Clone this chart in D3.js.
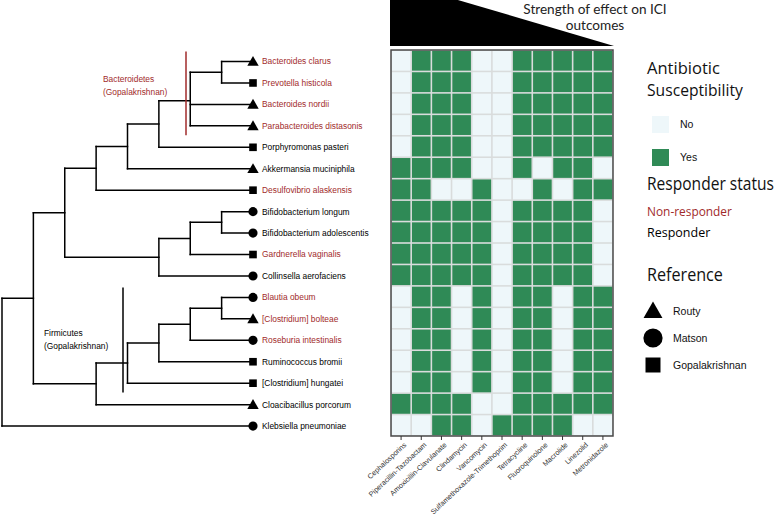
<!DOCTYPE html>
<html><head><meta charset="utf-8">
<script src="https://cdn.jsdelivr.net/npm/d3@7"></script>
<style>body{margin:0;background:#fff;} svg{display:block;}</style>
</head><body>
<svg id="chart" width="778" height="518"></svg>
<script>
// ---------------- data ----------------
const taxa = [
  "Bacteroides clarus","Prevotella histicola","Bacteroides nordii","Parabacteroides distasonis",
  "Porphyromonas pasteri","Akkermansia muciniphila","Desulfovibrio alaskensis",
  "Bifidobacterium longum","Bifidobacterium adolescentis","Gardnerella vaginalis",
  "Collinsella aerofaciens","Blautia obeum","[Clostridium] bolteae","Roseburia intestinalis",
  "Ruminococcus bromii","[Clostridium] hungatei","Cloacibacillus porcorum","Klebsiella pneumoniae"
];
const antibiotics = [
  "Cephalosporins","Piperacillin-Tazobactam","Amoxicillin-Clavulanate","Clindamycin",
  "Vancomycin","Sulfamethoxazole-Trimethoprim","Tetracycline","Fluoroquinolone",
  "Macrolide","Linezolid","Metronidazole"
];
// 1 = susceptible (Yes), 0 = No ; one row per taxon, one column per antibiotic
const susceptibility = [
  [0,1,1,1,0,0,1,1,1,1,1],
  [0,1,1,1,0,0,1,1,1,1,1],
  [0,1,1,1,0,0,1,1,1,1,1],
  [0,1,1,1,0,0,1,1,1,1,1],
  [0,1,1,1,0,0,1,1,1,1,1],
  [1,1,1,1,0,0,1,0,1,1,0],
  [1,1,0,0,1,0,0,1,0,1,1],
  [1,1,1,1,1,0,1,1,1,1,0],
  [1,1,1,1,1,0,1,1,1,1,0],
  [1,1,1,1,1,0,1,1,1,1,0],
  [1,1,1,1,1,0,1,1,1,1,0],
  [0,1,1,0,1,0,1,1,0,1,1],
  [0,1,1,0,1,0,1,1,0,1,1],
  [0,1,1,0,1,0,1,1,0,1,1],
  [0,1,1,0,1,0,1,1,0,1,1],
  [0,1,1,0,1,0,1,1,0,1,1],
  [1,1,1,1,0,0,1,1,1,1,1],
  [0,0,1,1,0,1,1,1,1,0,0]
];
const responderStatus = [
  "Non-responder","Non-responder","Non-responder","Non-responder","Responder","Responder",
  "Non-responder","Responder","Responder","Non-responder","Responder","Non-responder",
  "Non-responder","Non-responder","Responder","Responder","Responder","Responder"
];
const referenceStudy = [
  "Routy","Gopalakrishnan","Routy","Routy","Gopalakrishnan","Routy","Gopalakrishnan",
  "Matson","Matson","Gopalakrishnan","Matson","Matson","Routy","Matson",
  "Gopalakrishnan","Gopalakrishnan","Routy","Matson"
];
// tree topology (nested arrays)
const treeTopology = [
  [
    [
      [[[[["Bacteroides clarus","Prevotella histicola"],"Bacteroides nordii","Parabacteroides distasonis"],
        "Porphyromonas pasteri"],"Akkermansia muciniphila"],"Desulfovibrio alaskensis"],
      [[["Bifidobacterium longum","Bifidobacterium adolescentis"],"Gardnerella vaginalis"],"Collinsella aerofaciens"]
    ],
    [[[[["Blautia obeum","[Clostridium] bolteae"],"Roseburia intestinalis"],"Ruminococcus bromii"],
      "[Clostridium] hungatei"],"Cloacibacillus porcorum"]
  ],
  "Klebsiella pneumoniae"
];
const clades = [
  {lines:["Bacteroidetes","(Gopalakrishnan)"], from:"Bacteroides clarus", to:"Parabacteroides distasonis", color:"#a12b2b"},
  {lines:["Firmicutes","(Gopalakrishnan)"], from:"Blautia obeum", to:"[Clostridium] hungatei", color:"#000"}
];
const susceptLegend = ["No","Yes"];
const responderLegend = ["Non-responder","Responder"];
const referenceLegend = ["Routy","Matson","Gopalakrishnan"];
const titleLines = ["Strength of effect on ICI","outcomes"];

// ---------------- styles ----------------
const RED = "#a12b2b", GREEN = "#2f8a56", PALE = "#eef7fa", GAP = "#d9dcdc";
const svg = d3.select("#chart");
const ARIAL = "'Liberation Sans', Arial, sans-serif";
const HEAD = "'Open Sans', 'Noto Sans', sans-serif";

// horizontally condense a text so that it has the given width
function fitWidth(sel, x0, y0, target) {
  const w = sel.node().getComputedTextLength();
  const k = Math.min(1, target / w);
  sel.attr("x", 0).attr("y", 0).attr("transform", `translate(${x0},${y0}) scale(${k},1)`);
}

// ---------------- scales ----------------
const grid = {x0:391, x1:613, y0:50, y1:436};
const x = d3.scaleBand().domain(antibiotics).range([grid.x0, grid.x1]);
const y = d3.scaleBand().domain(taxa).range([grid.y0, grid.y1]);
const color = d3.scaleOrdinal().domain([0,1]).range([PALE, GREEN]);
const textColor = d3.scaleOrdinal().domain(responderLegend).range([RED, "#000"]);
const shape = d3.scaleOrdinal().domain(referenceLegend).range([d3.symbolTriangle, d3.symbolCircle, d3.symbolSquare]);
const tipSize = d3.scaleOrdinal().domain(referenceLegend).range([56, 66, 58]);
const legSize = d3.scaleOrdinal().domain(referenceLegend).range([155, 290, 225]);

// ---------------- wedge + title ----------------
svg.append("path")
  .attr("d", d3.line()([[grid.x0-1, -20],[grid.x0-1, 46],[grid.x1+1, 46]]) + "Z")
  .attr("fill", "#000");
svg.append("g").selectAll("text").data(titleLines).join("text")
  .attr("x", 595).attr("y", (d,i) => 13.6 + i*16.2)
  .attr("text-anchor", "middle")
  .attr("font-family", "Lato, 'Open Sans', sans-serif").attr("font-size", 13.6).attr("fill", "#222")
  .text(d => d);

// ---------------- heatmap ----------------
svg.append("rect").attr("x", grid.x0).attr("y", grid.y0)
  .attr("width", grid.x1-grid.x0).attr("height", grid.y1-grid.y0).attr("fill", GAP);
const cells = [];
taxa.forEach((t,i) => antibiotics.forEach((a,j) => cells.push({t, a, v: susceptibility[i][j]})));
svg.append("g").selectAll("rect").data(cells).join("rect")
  .attr("x", d => x(d.a) + 0.8).attr("y", d => y(d.t) + 0.8)
  .attr("width", x.bandwidth() - 1.6).attr("height", y.bandwidth() - 1.6)
  .attr("fill", d => color(d.v));
svg.append("rect").attr("x", grid.x0).attr("y", grid.y0)
  .attr("width", grid.x1-grid.x0).attr("height", grid.y1-grid.y0)
  .attr("fill", "none").attr("stroke", "#4a4a4a").attr("stroke-width", 1.5);

const xAxis = svg.append("g").attr("transform", `translate(0,${grid.y1})`)
  .call(d3.axisBottom(x).tickSize(4).tickSizeOuter(0));
xAxis.select(".domain").remove();
xAxis.selectAll(".tick line").attr("stroke", "#333");
xAxis.selectAll(".tick text")
  .attr("font-family", ARIAL).attr("font-size", 7.2).attr("fill", "#333")
  .attr("text-anchor", "end")
  .attr("transform", "translate(2,4) rotate(-43)")
  .attr("dy", "0.35em").attr("y", 4).attr("x", -1);

// ---------------- tree ----------------
const root = d3.hierarchy(treeTopology, d => Array.isArray(d) ? d : null);
const xTree = d3.scaleLinear().domain([root.height, 0]).range([2, 253]);
root.eachAfter(n => {
  n.px = xTree(n.height);
  n.py = n.children ? d3.mean(n.children, c => c.py) : y(n.data) + y.bandwidth()/2 + 0.8;
});
const treeG = svg.append("g").attr("stroke", "#000").attr("stroke-width", 1.5).attr("fill", "none")
  .attr("stroke-linecap", "square");
root.descendants().forEach(n => {
  if (n.children) {
    treeG.append("line").attr("x1", n.px).attr("x2", n.px)
      .attr("y1", d3.min(n.children, c => c.py)).attr("y2", d3.max(n.children, c => c.py));
  }
  if (n.parent) {
    treeG.append("line").attr("x1", n.parent.px).attr("x2", n.px)
      .attr("y1", n.py).attr("y2", n.py);
  }
});
const leaves = root.leaves();
const refOf = d => referenceStudy[taxa.indexOf(d.data)];
svg.append("g").selectAll("path").data(leaves).join("path")
  .attr("transform", d => `translate(${d.px},${d.py + (refOf(d)==="Routy" ? 1 : 0)})`)
  .attr("d", d => d3.symbol(shape(refOf(d)), tipSize(refOf(d)))())
  .attr("fill", "#000");
svg.append("g").selectAll("text").data(leaves).join("text")
  .attr("x", d => d.px + 9).attr("y", d => d.py).attr("dy", "0.35em")
  .attr("font-family", ARIAL).attr("font-size", 8.4)
  .attr("fill", d => textColor(responderStatus[taxa.indexOf(d.data)]))
  .text(d => d.data);

// clade annotations
const cladeX = [186, 123];
const cladeTextX = [103, 44];
const cladeTextY = [79, 333];
clades.forEach((c, k) => {
  svg.append("line").attr("x1", cladeX[k]).attr("x2", cladeX[k])
    .attr("y1", y(c.from) + 1.5).attr("y2", y(c.to) + y.bandwidth() - 0.5)
    .attr("stroke", c.color).attr("stroke-width", 1.5);
  svg.append("g").selectAll("text").data(c.lines).join("text")
    .attr("x", cladeTextX[k]).attr("y", (d,i) => cladeTextY[k] + i*13).attr("dy", "0.35em")
    .attr("font-family", ARIAL).attr("font-size", 8.4).attr("fill", c.color)
    .text(d => d);
});

// ---------------- legends ----------------
const L = svg.append("g");
["Antibiotic","Susceptibility"].forEach((s, i) => {
  const t = L.append("text").attr("font-family", HEAD).attr("font-size", 17).attr("fill", "#111").text(s);
  fitWidth(t, 647, 74 + i*22, i ? 96 : 73);
});
susceptLegend.forEach((s, i) => {
  L.append("rect").attr("x", 652).attr("y", 116 + i*33).attr("width", 17).attr("height", 17)
    .attr("fill", color(i));
  L.append("text").attr("x", 680).attr("y", 124.5 + i*33).attr("dy", "0.35em")
    .attr("font-family", ARIAL).attr("font-size", 10.5).attr("fill", "#111").text(s);
});
fitWidth(L.append("text").attr("font-family", HEAD).attr("font-size", 18).attr("fill", "#111")
  .text("Responder status"), 647, 190, 127);
responderLegend.forEach((s, i) => {
  const t = L.append("text").attr("font-family", HEAD).attr("font-size", 12.5)
    .attr("fill", textColor(s)).text(s);
  fitWidth(t, 647, 216 + i*21, i ? 71 : 85);
});
fitWidth(L.append("text").attr("font-family", HEAD).attr("font-size", 19).attr("fill", "#111")
  .text("Reference"), 647, 281, 76);
referenceLegend.forEach((s, i) => {
  const cy = 311 + i*27;
  L.append("path").attr("transform", `translate(653,${cy + (i===0 ? 1.5 : 0)})`)
    .attr("d", d3.symbol(shape(s), legSize(s))()).attr("fill", "#000");
  L.append("text").attr("x", 673).attr("y", cy).attr("dy", "0.35em")
    .attr("font-family", ARIAL).attr("font-size", 10.5).attr("fill", "#111").text(s);
});
</script>
</body></html>
